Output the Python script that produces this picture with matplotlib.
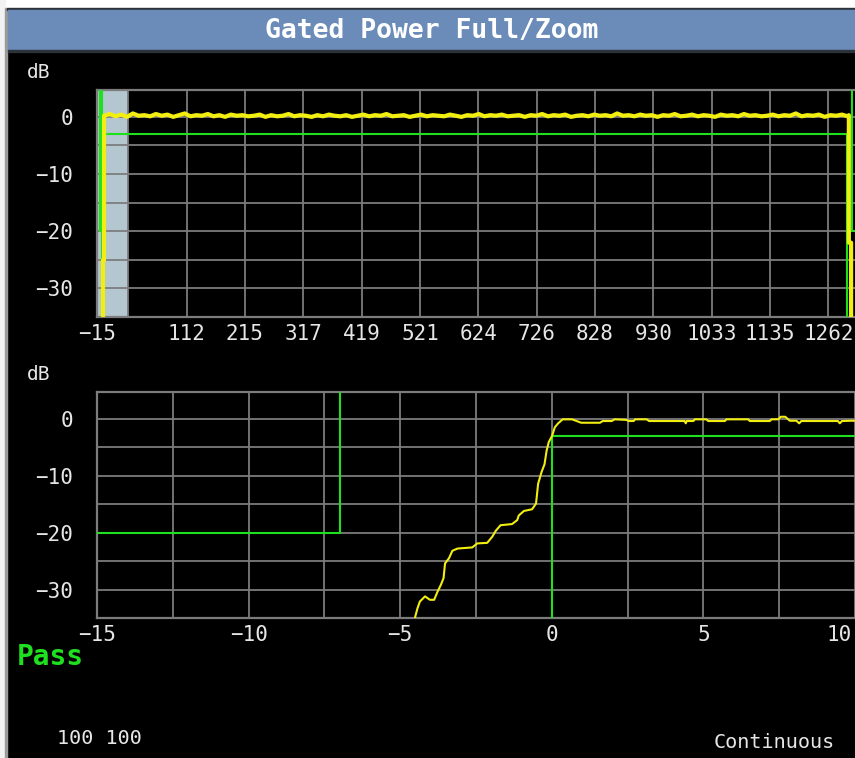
import numpy as np
import matplotlib.pyplot as plt
from matplotlib.patches import Rectangle
from matplotlib.transforms import ScaledTranslation

W, H = 855, 758

# full gate view: tick labels along the x grid
full_tick_labels = ['112', '215', '317', '419', '521', '624', '726', '828',
                    '930', '1033', '1135', '1262']
# full gate trace level (dB), sampled across the burst
full_level = [0.2, 0.5, 0.1, 0.4, 0.0, 0.6, 0.2, 0.3, 0.1, 0.5, 0.2, 0.4, 0.0,
              0.3, 0.6, 0.1, 0.3, 0.2, 0.5, 0.1, 0.3, 0.0, 0.4, 0.2, 0.3, 0.1,
              0.2, 0.4, 0.0, 0.3, 0.1, 0.2, 0.5, 0.1, 0.3, 0.2, 0.0, 0.3, 0.1,
              0.4, 0.2, 0.1, 0.3, 0.0, 0.2, 0.4, 0.1, 0.3, 0.2, 0.5, 0.1, 0.2,
              0.3, 0.0, 0.2, 0.4, 0.1, 0.3, 0.2, 0.1, 0.4, 0.2, 0.0, 0.3, 0.2,
              0.5, 0.1, 0.3, 0.2, 0.4, 0.1, 0.2, 0.3, 0.0, 0.3, 0.2, 0.5, 0.1,
              0.3, 0.2, 0.4, 0.0, 0.2, 0.3, 0.1, 0.4, 0.2, 0.3, 0.1, 0.6, 0.2,
              0.3, 0.1, 0.4, 0.2, 0.3, 0.0, 0.3, 0.2, 0.5, 0.1, 0.2, 0.4, 0.1,
              0.3, 0.2, 0.0, 0.4, 0.2, 0.3, 0.1, 0.5, 0.2, 0.3, 0.1, 0.2, 0.4,
              0.1, 0.3, 0.2, 0.6, 0.1, 0.3, 0.2, 0.4, 0.0, 0.3, 0.2, 0.4, 0.1]
burst_start, burst_end = -2.6, 1310
rise_x = [-4.4, -4.4, -2.6]
rise_y = [-36, -25, -25]
fall_x = [1312, 1312, 1316, 1316]
fall_y = [0.3, -22, -22, -36]

# full gate masks
full_upper_left_x = [-10, -10, -7, -7]
full_upper_left_y = [6, -20, -20, 6]
full_lower_x = [-6, -6, 1309, 1309]
full_lower_y = [-36, -3, -3, -36]
full_upper_right_x = [1318, 1318, 1330]
full_upper_right_y = [6, -20, -20]
zoom_span = (-15, 40)

# zoomed rising edge (us, dB)
zoom_t = [-4.51, -4.43, -4.35, -4.18, -4.02, -3.88, -3.77, -3.66, -3.57, -3.52,
          -3.39, -3.28, -3.11, -2.62, -2.46, -2.13, -1.96, -1.85, -1.69, -1.31,
          -1.14, -1.09, -0.92, -0.65, -0.52, -0.45, -0.34, -0.24, -0.17, -0.10,
          0.01, 0.10, 0.21, 0.36, 0.67, 0.97, 1.59, 1.68, 1.98, 2.07, 2.47,
          2.53, 2.70, 2.75, 3.13, 3.21, 4.38, 4.42, 4.45, 4.67, 4.72, 5.10,
          5.16, 5.71, 5.76, 6.48, 6.53, 7.19, 7.25, 7.47, 7.55, 7.70, 7.85,
          8.07, 8.16, 8.23, 9.44, 9.50, 9.57, 9.88, 10.0]
zoom_db = [-34.9, -33.3, -32.1, -31.2, -31.8, -31.8, -30.4, -29.2, -28.0, -25.4,
           -24.5, -23.2, -22.8, -22.6, -21.9, -21.8, -20.7, -19.7, -18.7, -18.5,
           -17.8, -17.0, -16.2, -15.9, -14.9, -11.4, -9.4, -8.0, -5.6, -4.1,
           -3.0, -1.5, -0.8, -0.1, -0.1, -0.7, -0.7, -0.4, -0.4, -0.1, -0.2,
           -0.4, -0.4, -0.1, -0.1, -0.4, -0.4, -0.8, -0.4, -0.4, -0.1, -0.1,
           -0.4, -0.4, -0.1, -0.1, -0.4, -0.4, -0.1, -0.1, 0.35, 0.35, -0.35,
           -0.35, -0.8, -0.4, -0.4, -0.8, -0.4, -0.35, -0.35]
zoom_upper_x = [-15, -7, -7]
zoom_upper_y = [-20, -20, 6]
zoom_lower_x = [0, 0, 10.5]
zoom_lower_y = [-36, -3, -3]
zoom_ticks = [-15, -10, -5, 0, 5, 10]

GRID = '#7c7c7c'
TXT = '#e6e6e6'
GREEN = '#1fe01f'
YEL = '#f2ee10'
MONO = 'DejaVu Sans Mono'

fig = plt.figure(figsize=(W / 100, H / 100), dpi=100, facecolor='black')


def px_axes(left, top, right, bottom):
    return fig.add_axes([left / W, 1 - bottom / H, (right - left) / W, (bottom - top) / H])


def fig_rect(x0, y0, x1, y1, color):
    fig.patches.append(Rectangle((x0 / W, 1 - y1 / H), (x1 - x0) / W, (y1 - y0) / H,
                                 transform=fig.transFigure, color=color, zorder=0))


def style(ax):
    ax.set_facecolor('black')
    ax.set_ylim(-35, 4.7)
    ax.set_yticks([0, -10, -20, -30])
    ax.set_yticks([-5, -15, -25], minor=True)
    ax.grid(True, which='both', color=GRID, lw=1.3, zorder=1)
    ax.set_axisbelow(True)
    for s in ax.spines.values():
        s.set_color(GRID)
        s.set_linewidth(1.6)
    ax.tick_params(which='both', length=0, colors=TXT, labelsize=15)
    ax.tick_params(axis='y', pad=17)
    ax.tick_params(axis='x', pad=5)
    for lab in ax.get_xticklabels() + ax.get_yticklabels():
        lab.set_family(MONO)
    ax.set_yticklabels(['0', '\u221210', '\u221220', '\u221230'], family=MONO)


# window frame and title bar
fig_rect(0, 0, W, 8, 'white')
fig_rect(0, 0, 5, H, '#f2f2f2')
fig_rect(5, 8, 7, H, '#9a9a9a')
fig_rect(7, 8, W, 10, '#2b323a')
fig_rect(8, 10, W, 50, '#6b8cb9')
fig_rect(8, 50, W, 52, '#2b323a')
fig.text(432 / W, 1 - 31 / H, 'Gated Power Full/Zoom', color='white', fontsize=19,
         family=MONO, weight='bold', ha='center', va='center')

# full burst view
ax1 = px_axes(97, 90, 858, 317)
x_right = -15 + 761 * 1.765
ax1.set_xlim(-15, x_right)
ax1.axvspan(*zoom_span, color='#b4c6cf', zorder=0.5, lw=0)
full_x = np.linspace(burst_start, burst_end, len(full_level))
ax1.plot(full_upper_left_x, full_upper_left_y, color=GREEN, lw=1.5, zorder=3)
ax1.plot(full_lower_x, full_lower_y, color=GREEN, lw=1.5, zorder=3)
ax1.plot(full_upper_right_x, full_upper_right_y, color=GREEN, lw=1.5, zorder=3)
trace_x = rise_x + list(full_x) + fall_x
trace_y = rise_y + list(full_level) + fall_y
ax1.plot(trace_x, trace_y, color=YEL, lw=3.0, zorder=4)
grid_pos = [40 + 103 * k for k in range(13)]
ax1.set_xticks([-15] + grid_pos[1:])
ax1.set_xticks(grid_pos[:1], minor=True)
ax1.set_xticklabels(['\u221215'] + full_tick_labels)
style(ax1)

# zoomed rising edge
ax2 = px_axes(97, 392, 858, 618)
ax2.set_xlim(-15, 10.1)
ax2.set_xticks(zoom_ticks)
ax2.set_xticks([-12.5, -7.5, -2.5, 2.5, 7.5], minor=True)
ax2.set_xticklabels([str(t).replace('-', '\u2212') for t in zoom_ticks])
ax2.plot(zoom_upper_x, zoom_upper_y, color=GREEN, lw=1.5, zorder=3)
ax2.plot(zoom_lower_x, zoom_lower_y, color=GREEN, lw=1.5, zorder=3)
ax2.plot(zoom_t, zoom_db, color=YEL, lw=1.5, zorder=4)
style(ax2)
# last label sits against the right edge of the screen
last = ax2.get_xticklabels()[-1]
last.set_ha('right')
last.set_transform(last.get_transform() + ScaledTranslation(-3 / 100, 0, fig.dpi_scale_trans))

fig.text(27 / W, 1 - 72 / H, 'dB', color=TXT, fontsize=14, family=MONO, va='center')
fig.text(27 / W, 1 - 375 / H, 'dB', color=TXT, fontsize=14, family=MONO, va='center')
fig.text(17 / W, 1 - 657 / H, 'Pass', color=GREEN, fontsize=20, family=MONO,
         weight='bold', va='center')
fig.text(57 / W, 1 - 738 / H, '100 100', color=TXT, fontsize=14.5, family=MONO, va='center')
fig.text(714 / W, 1 - 742 / H, 'Continuous', color=TXT, fontsize=14.5, family=MONO,
         va='center')

fig.savefig('out.png', dpi=100, facecolor='black')
